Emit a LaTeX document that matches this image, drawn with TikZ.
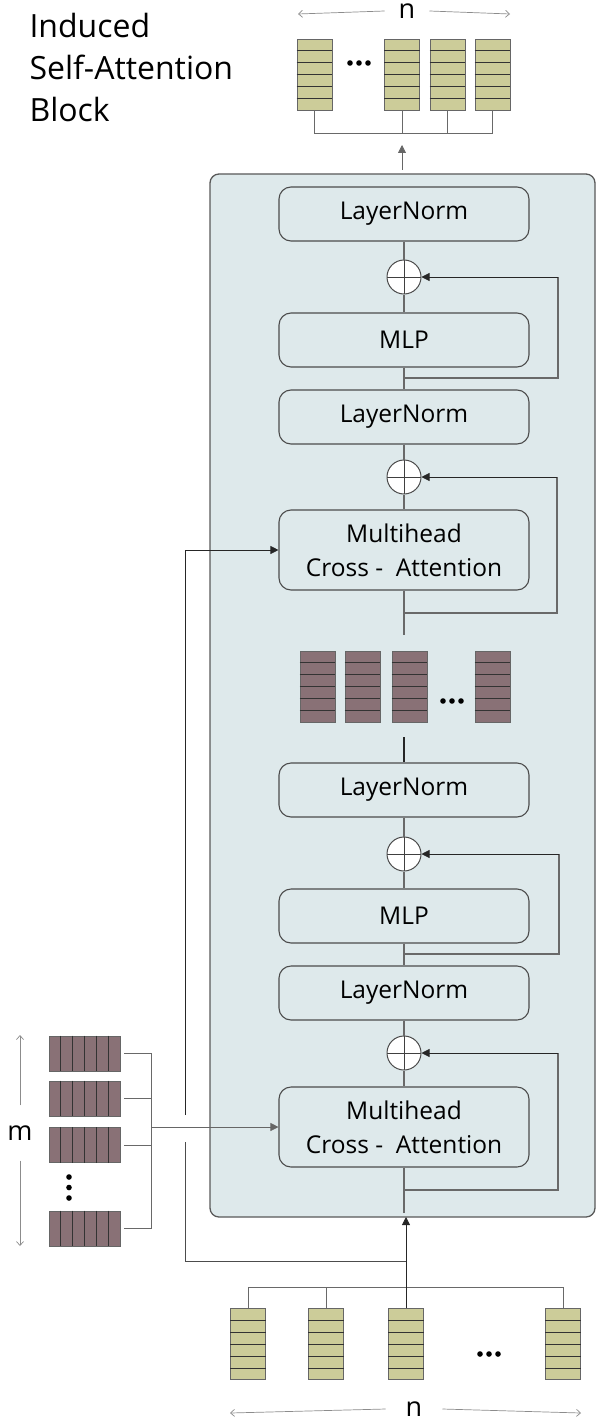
\documentclass[tikz,border=0pt]{standalone}
\usepackage{fontspec}
\setmainfont{Open Sans}
\usetikzlibrary{arrows.meta, calc}

\definecolor{panelblue}{RGB}{222,233,235}
\definecolor{olive}{RGB}{204,204,153}
\definecolor{mauve}{RGB}{137,113,118}
\definecolor{wire}{RGB}{105,105,105}

\tikzset{
  layer/.style={draw=black!70, fill=panelblue, rounded corners=12pt, line width=1.1pt,
    minimum width=250pt, minimum height=54pt, align=center, font=\fontsize{24.5}{34}\selectfont},
  addnode/.style={draw=black!70, fill=white, circle, minimum size=34pt, inner sep=0pt, line width=1pt,
    path picture={\draw[black!75, line width=0.9pt]
      (path picture bounding box.north) -- (path picture bounding box.south)
      (path picture bounding box.west) -- (path picture bounding box.east);}},
  tok/.style={draw=black!60, line width=0.8pt, inner sep=0pt},
  wiring/.style={draw=wire, line width=1.1pt},
  arr/.style={draw=black!85, line width=0.8pt, -{Triangle[length=8pt,width=8pt]}},
  dim/.style={draw=black!45, line width=0.7pt, -{Straight Barb[length=4pt,width=7pt]}},
}

% column of n-tokens (horizontal rows)
\newcommand{\rowstack}[4]{%
  \node[tok, fill=#4, minimum width=35pt, minimum height=71pt] (#1) at (#2,#3) {};
  \foreach \k in {1,...,5}
    \draw[black!80, line width=0.9pt] ($(#1.north west)!\k/6!(#1.south west)$) -- ($(#1.north east)!\k/6!(#1.south east)$);
}
% row of m-tokens (vertical stripes)
\newcommand{\colstack}[3]{%
  \node[tok, fill=mauve, minimum width=71pt, minimum height=35pt] (#1) at (#2,#3) {};
  \foreach \k in {1,...,5}
    \draw[black!80, line width=0.9pt] ($(#1.north west)!\k/6!(#1.north east)$) -- ($(#1.south west)!\k/6!(#1.south east)$);
}

\begin{document}
\begin{tikzpicture}[x=1pt, y=-1pt]
        \useasboundingbox (0,0) rectangle (596,1423);

        % Title
        \node[anchor=west, align=left, font=\fontsize{32}{42}\selectfont] (title) at (26,68) {Induced\\Self-Attention\\Block};

        % Block body
        \draw[draw=black!65, fill=panelblue, line width=1.3pt, rounded corners=9pt] (210,174) rectangle (595,1217);

        % Nodes
        \node[layer] (ln1) at (404,214) {LayerNorm};
        \node[addnode] (add1) at (404,277) {};
        \node[layer] (mlp1) at (404,340) {MLP};
        \node[layer] (ln2) at (404,417) {LayerNorm};
        \node[addnode] (add2) at (404,477) {};
        \node[layer, minimum height=80pt] (mhca1) at (404,550) {Multihead\\Cross -~ Attention};

        \rowstack{h1}{317.5}{686.5}{mauve}
        \rowstack{h2}{362.5}{686.5}{mauve}
        \rowstack{h3}{409.5}{686.5}{mauve}
        \rowstack{h4}{492.5}{686.5}{mauve}
        \foreach \d in {-9,0,9} \fill (452+\d,701) circle (2.8);

        \node[layer] (ln3) at (404,790) {LayerNorm};
        \node[addnode] (add3) at (404,854) {};
        \node[layer] (mlp2) at (404,916) {MLP};
        \node[layer] (ln4) at (404,993) {LayerNorm};
        \node[addnode] (add4) at (404,1053) {};
        \node[layer, minimum height=80pt] (mhca2) at (404,1127) {Multihead\\Cross -~ Attention};

        \coordinate (fb1) at (404,378);
        \coordinate (fb2) at (404,613);
        \coordinate (mid1) at (404,635);
        \coordinate (mid2) at (404,737);
        \coordinate (fb3) at (404,954);
        \coordinate (fb4) at (404,1190);
        \coordinate (out) at (404,1213);

        % Main chain
        \draw[wiring] (ln1) -- (add1) -- (mlp1) -- (ln2) -- (add2) -- (mhca1) -- (mid1);
        \draw[black!85, line width=1.1pt] (mid2) -- (ln3);
        \draw[wiring] (ln3) -- (add3) -- (mlp2) -- (ln4) -- (add4) -- (mhca2) -- (out);

        % Residual paths
        \draw[wiring] (fb1) -- (558,378) -- (558,277);
        \draw[arr] (558,277) -- (add1.east);
        \draw[wiring] (fb2) -- (557,613) -- (557,477);
        \draw[arr] (557,477) -- (add2.east);
        \draw[wiring] (fb3) -- (559,954) -- (559,854);
        \draw[arr] (559,854) -- (add3.east);
        \draw[wiring] (fb4) -- (558,1190) -- (558,1053);
        \draw[arr] (558,1053) -- (add4.east);

        % Output tokens
        \rowstack{o1}{314.5}{74.5}{olive}
        \rowstack{o2}{402}{74.5}{olive}
        \rowstack{o3}{447.5}{74.5}{olive}
        \rowstack{o4}{492.5}{74.5}{olive}
        \foreach \d in {-9,0,9} \fill (359+\d,63) circle (2.8);
        \draw[wiring, line width=0.8pt] (o1.south) -- (314.5,133) -- (492.5,133) -- (o4.south);
        \draw[wiring, line width=0.8pt] (o2.south) -- (402,133);
        \draw[wiring, line width=0.8pt] (o3.south) -- (447.5,133);
        \coordinate (top) at (402,170);
        \draw[arr, draw=black!60] (top) -- (402,145);

        \node[font=\fontsize{27}{30}\selectfont, inner xsep=14pt] (ntop) at (407,11) {n};
        \draw[dim] (ntop.west) -- (298,14);
        \draw[dim] (ntop.east) -- (510,14);

        % Input tokens
        \rowstack{x1}{248}{1344}{olive}
        \rowstack{x2}{326}{1344}{olive}
        \rowstack{x3}{406}{1344}{olive}
        \rowstack{x4}{563}{1344}{olive}
        \foreach \d in {-9,0,9} \fill (489+\d,1354) circle (2.8);
        \draw[wiring, line width=0.8pt] (x1.north) -- (248,1287) -- (563,1287) -- (x4.north);
        \draw[wiring, line width=0.8pt] (x2.north) -- (326,1287);
        \draw[arr] (x3.north) -- (406,1217);
        \coordinate (split) at (406,1261);
        \draw[black!70, line width=0.9pt] (split) -- (185,1261) -- (185,1142);
        \draw[arr] (185,1115) -- (185,550) -- (mhca1.west);

        \node[font=\fontsize{27}{30}\selectfont, inner xsep=20pt] (nbot) at (414,1409) {n};
        \draw[dim] (nbot.west) -- (230,1413);
        \draw[dim] (nbot.east) -- (581,1413);

        % Inducing points
        \colstack{m1}{84.5}{1053.5}
        \colstack{m2}{84.5}{1098.5}
        \colstack{m3}{84.5}{1145}
        \colstack{m4}{84.5}{1228.5}
        \foreach \d in {1177,1187.5,1198} \fill (69,\d) circle (2.8);
        \draw[wiring, line width=0.8pt] ([xshift=4pt]m1.east) -- (151,1053.5) -- (151,1228.5) -- ([xshift=4pt]m4.east);
        \draw[wiring, line width=0.8pt] ([xshift=4pt]m2.east) -- (151,1098.5);
        \draw[wiring, line width=0.8pt] ([xshift=4pt]m3.east) -- (151,1145);
        \coordinate (bus) at (151,1127);
        \draw[arr, draw=black!60] (bus) -- (mhca2.west);

        \node[font=\fontsize{27}{30}\selectfont, inner ysep=20pt] (mlab) at (20,1133) {m};
        \draw[dim] (mlab.north) -- (20,1035);
        \draw[dim] (mlab.south) -- (20,1246);
\end{tikzpicture}
\end{document}
